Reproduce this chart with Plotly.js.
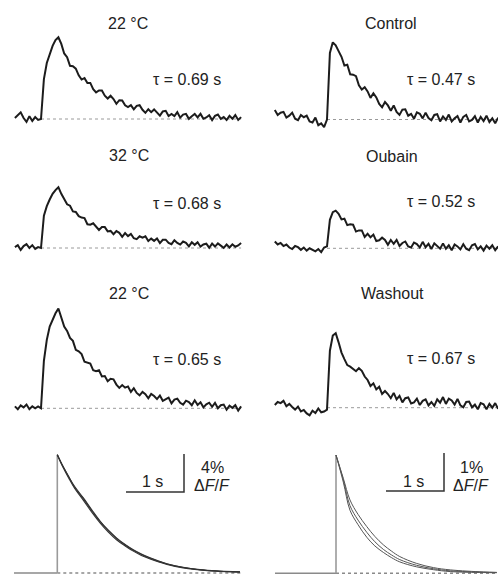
<!DOCTYPE html>
<html><head><meta charset="utf-8">
<script src="https://cdn.plot.ly/plotly-3.0.1.min.js"></script>
<style>html,body{margin:0;padding:0;background:#fff;}#chart{width:498px;height:575px;}</style>
</head><body><div id="chart"></div>
<script>
// ---------- DATA (ΔF/F in %, time in s) ----------
const sampleStepS = 0.05;
const leftStartS = -0.45;
const rightStartS = -0.9;

const panelTitles = ["22 °C", "Control", "32 °C", "Oubain", "22 °C", "Washout"];
const tauLabels = ["τ = 0.69 s", "τ = 0.47 s", "τ = 0.68 s", "τ = 0.52 s", "τ = 0.65 s", "τ = 0.67 s"];

const trace22a = [0.1,0.4,0.7,0.1,-0.3,0.3,-0.2,0.2,-0.1,0.0,
  4.2,5.9,6.8,7.7,8.3,8.6,
  7.9,6.9,6.5,5.6,5.55,5.3,4.6,4.15,4.3,3.8,
  3.8,3.15,2.8,3.0,3.0,2.45,2.15,2.45,2.1,1.6,
  1.98,1.95,1.45,1.25,1.45,1.01,1.38,1.45,0.97,0.65,
  1.03,0.72,1.01,0.7,0.35,0.8,0.86,0.32,0.53,0.3,
  0.72,0.14,0.46,0.54,0.02,0.3,0.53,0.16,0.54,0.02,
  0.16,0.4,-0.11,0.33,0.47,0.01,0.2,-0.11,0.33,0.02,
  0.41,-0.1,0.2];
const trace32 = [0.1,0.3,-0.2,0.2,0.4,0.0,0.3,-0.1,0.1,0.0,
  3.4,4.4,5.1,5.7,6.1,6.4,
  5.7,5.2,4.6,4.45,3.85,3.8,3.35,3.2,3.15,2.5,
  2.45,2.6,2.3,1.9,2.2,2.2,1.75,1.8,1.45,1.78,
  1.6,1.18,1.57,1.25,1.49,1.03,0.93,1.23,1.08,1.23,
  0.73,0.99,0.75,1.0,0.51,0.87,0.88,0.54,0.4,0.82,
  0.54,0.36,0.68,0.55,0.17,0.6,0.33,0.61,0.14,0.37,
  0.45,0.03,0.46,0.15,0.49,0.23,0.02,0.36,0.05,0.39,
  0.13,0.27,0.52];
const trace22b = [0.2,-0.1,0.3,0.1,0.4,-0.1,0.2,0.0,0.2,0.0,
  5.0,7.2,8.6,9.4,10.0,10.5,
  9.5,8.6,8.15,7.4,7.1,6.15,6.0,5.7,4.9,4.8,
  4.7,4.0,3.9,4.0,3.35,3.4,2.85,3.1,3.05,2.5,
  2.15,2.45,2.17,2.3,1.73,2.12,1.62,1.37,1.72,1.48,
  1.05,1.52,1.3,0.97,1.35,0.79,0.93,1.12,0.52,0.92,
  1.02,0.58,0.39,0.8,0.66,0.32,0.84,0.36,0.63,0.1,
  0.42,0.59,0.16,0.58,0.0,0.32,0.39,-0.14,0.28,0.05,
  0.33,-0.24,0.2];
const traceControl = [0.25,0.12,0.18,0.2,0.05,0.1,0.18,0.02,-0.02,0.12,
  0.06,0.1,-0.05,-0.08,0.05,-0.15,-0.1,-0.2,0.0,1.75,2.03,1.95,
  1.8,1.65,1.42,1.44,1.19,1.18,1.14,0.9,0.79,0.85,
  0.74,0.57,0.69,0.58,0.41,0.32,0.46,0.37,0.23,0.37,
  0.2,0.12,0.26,0.27,0.1,0.15,0.02,0.19,0.15,0.03,
  0.18,0.04,-0.02,0.12,0.14,-0.05,0.08,-0.01,0.13,-0.05,
  0.03,0.09,-0.08,0.07,0.12,-0.05,-0.01,0.09,-0.08,0.07,
  -0.04,0.1,-0.07,0.03,-0.1,0.05];
const traceOubain = [0.18,0.1,0.14,0.06,0.1,0.02,-0.02,0.06,0.03,-0.04,
  0.02,-0.06,0.0,-0.03,-0.08,-0.02,-0.1,0.02,0.05,0.75,0.95,0.99,
  0.91,0.76,0.78,0.61,0.63,0.62,0.44,0.47,0.47,0.3,
  0.38,0.29,0.36,0.19,0.21,0.28,0.22,0.09,0.22,0.12,
  0.22,0.06,0.14,0.18,0.05,0.02,0.15,0.11,0.02,0.17,
  0.03,0.12,-0.02,0.13,0.05,-0.01,0.13,-0.01,0.08,-0.05,
  0.1,0.05,-0.03,0.11,-0.01,-0.05,0.08,0.11,-0.03,0.05,
  -0.06,0.07,-0.01,0.08,-0.05,0.05];
const traceWashout = [0.07,0.15,0.12,0.18,0.04,0.1,0.02,-0.05,0.03,-0.1,
  -0.06,-0.15,-0.2,-0.08,-0.14,-0.02,-0.12,-0.1,-0.05,1.5,1.9,1.96,
  1.72,1.45,1.28,1.12,1.08,1.02,0.96,1.04,0.97,0.82,
  0.73,0.57,0.64,0.48,0.55,0.36,0.44,0.36,0.25,0.39,
  0.22,0.31,0.14,0.25,0.27,0.11,0.14,0.24,0.07,0.18,
  0.22,0.06,0.15,0.05,0.22,0.13,0.28,0.1,0.24,0.19,
  0.08,0.23,0.06,0.01,0.15,0.16,0.01,0.08,-0.04,0.12,
  0.09,-0.04,0.1,0.0,0.12,-0.03];

// fitted decays (normalised)
const fitTimesLeft = [0,0.1,0.2,0.3,0.45,0.6,0.74,0.88,1.02,1.17,1.31,1.45,1.6,1.75,1.89,2.17,2.46,2.75,3.03,3.15];
const fit22a = [12.45,11.2,10.1,9.1,7.9,6.6,5.45,4.5,3.7,3.0,2.45,2.0,1.6,1.25,0.98,0.6,0.36,0.22,0.14,0.12];
const fit32  = [12.45,11.2,10.1,9.0,7.8,6.5,5.4,4.45,3.65,2.95,2.4,1.95,1.55,1.22,0.95,0.58,0.35,0.21,0.13,0.11];
const fit22b = [12.45,11.1,9.95,8.9,7.65,6.35,5.25,4.3,3.5,2.85,2.3,1.85,1.48,1.15,0.9,0.54,0.32,0.19,0.12,0.1];
const fitTimesRight = [0,0.126,0.241,0.38,0.53,0.67,0.816,0.96,1.10,1.39,1.68,1.97,2.54,2.77];
const fitWashout = [3.11,2.5,1.93,1.55,1.23,0.97,0.75,0.58,0.44,0.26,0.15,0.09,0.035,0.025];
const fitOubain  = [3.11,2.46,1.78,1.4,1.08,0.83,0.63,0.48,0.36,0.21,0.12,0.065,0.03,0.02];
const fitControl = [3.11,2.4,1.66,1.28,0.95,0.72,0.55,0.41,0.3,0.17,0.095,0.045,0.02,0.015];

const scaleTimeS = 1;
const scaleLeftPct = 4;
const scaleRightPct = 1;
const scaleLabelsLeft = ["1 s", "4%"];
const scaleLabelsRight = ["1 s", "1%"];

// ---------- LAYOUT GEOMETRY (pixels) ----------
const W = 498, H = 575, PXS = 58;
const panels = [
  {xa:10, xb:246, x0:41,   y0:119,   ya:30,  yb:130, ppy:9.5},  // L1
  {xa:270,xb:498, x0:327,  y0:119.5, ya:35,  yb:130, ppy:38},   // R1
  {xa:10, xb:246, x0:41,   y0:248,   ya:170, yb:258, ppy:9.5},  // L2
  {xa:270,xb:498, x0:327,  y0:248.3, ya:200, yb:258, ppy:38},   // R2
  {xa:10, xb:246, x0:41,   y0:408.3, ya:300, yb:418, ppy:9.5},  // L3
  {xa:270,xb:498, x0:327,  y0:407.7, ya:320, yb:418, ppy:38},   // R3
  {xa:10, xb:246, x0:57.3, y0:573,   ya:445, yb:575, ppy:9.5},  // L4
  {xa:270,xb:498, x0:336,  y0:573.3, ya:445, yb:575, ppy:38}    // R4
];
const px = x => x / W, py = y => 1 - y / H;

const layout = {
  width: W, height: H, margin: {l:0, r:0, t:0, b:0},
  paper_bgcolor: '#fff', plot_bgcolor: 'rgba(0,0,0,0)',
  showlegend: false, annotations: [], shapes: []
};
panels.forEach((p, i) => {
  const k = i === 0 ? '' : String(i + 1);
  layout['xaxis' + k] = {domain:[px(p.xa), px(p.xb)], range:[(p.xa-p.x0)/PXS, (p.xb-p.x0)/PXS],
    visible:false, fixedrange:true, anchor:'y' + k};
  layout['yaxis' + k] = {domain:[py(p.yb), py(p.ya)], range:[(p.y0-p.yb)/p.ppy, (p.y0-p.ya)/p.ppy],
    visible:false, fixedrange:true, anchor:'x' + k};
});
const ax = i => (i === 0 ? '' : String(i + 1));

const traces = [];
const recordings = [trace22a, traceControl, trace32, traceOubain, trace22b, traceWashout];
recordings.forEach((vals, i) => {
  const left = i % 2 === 0;
  const start = left ? leftStartS : rightStartS;
  const end = start + sampleStepS * (vals.length - 1);
  traces.push({type:'scatter', mode:'lines', x:[0, end], y:[0, 0], xaxis:'x'+ax(i), yaxis:'y'+ax(i),
    line:{color:'#9a9a9a', width:1, dash:'3px,3px'}, hoverinfo:'skip'});
  traces.push({type:'scatter', mode:'lines', x0:start, dx:sampleStepS, y:vals, xaxis:'x'+ax(i), yaxis:'y'+ax(i),
    line:{color:'#1c1c1c', width:2}});
});

function bottom(i, times, fits, color, width, startT, endT, peak) {
  const a = ax(i);
  traces.push({type:'scatter', mode:'lines', x:[startT, 0], y:[0, 0], xaxis:'x'+a, yaxis:'y'+a,
    line:{color:'#8a8a8a', width:1.6}});
  traces.push({type:'scatter', mode:'lines', x:[0, endT], y:[0, 0], xaxis:'x'+a, yaxis:'y'+a,
    line:{color:'#8a8a8a', width:1.6, dash:'3px,3px'}});
  traces.push({type:'scatter', mode:'lines', x:[0, 0], y:[0, peak], xaxis:'x'+a, yaxis:'y'+a,
    line:{color:'#9a9a9a', width:1.6}});
  fits.forEach(f => traces.push({type:'scatter', mode:'lines', x:times, y:f, xaxis:'x'+a, yaxis:'y'+a,
    line:{color:color, width:width, shape:'spline'}}));
}
bottom(6, fitTimesLeft, [fit22a, fit32, fit22b], '#333', 1.1, (14-57.3)/PXS, (242-57.3)/PXS, fit22a[0]);
bottom(7, fitTimesRight, [fitWashout, fitOubain, fitControl], '#555', 1.0, (275-336)/PXS, (498-336)/PXS, fitWashout[0]);

function scaleBar(i, cornerT, cornerY, pct) {
  const a = ax(i);
  traces.push({type:'scatter', mode:'lines', x:[cornerT - scaleTimeS, cornerT, cornerT], y:[cornerY, cornerY, cornerY + pct],
    xaxis:'x'+a, yaxis:'y'+a, line:{color:'#333', width:1.5}});
}
scaleBar(6, (184-57.3)/PXS, (573-492)/9.5, scaleLeftPct);
scaleBar(7, (444-336)/PXS, (573.3-491)/38, scaleRightPct);

const font = {family:'Liberation Sans, Arial, Helvetica, sans-serif', size:16, color:'#222'};
function label(text, x, y) {
  layout.annotations.push({text:text, x:px(x), y:py(y), xref:'paper', yref:'paper',
    xanchor:'center', yanchor:'middle', showarrow:false, font:font});
}
const titlePos = [[128,23],[391,23],[129,155],[392,157],[129,293],[392,293]];
const tauPos = [[187,80],[441,79],[187,203],[441,202],[187,359],[441,358]];
panelTitles.forEach((t, i) => label(t, titlePos[i][0], titlePos[i][1]));
tauLabels.forEach((t, i) => label(t, tauPos[i][0], tauPos[i][1]));
label(scaleLabelsLeft[0], 152, 481);
label(scaleLabelsLeft[1], 212, 467);
label('Δ<i>F</i>/<i>F</i>', 212, 485);
label(scaleLabelsRight[0], 413, 481);
label(scaleLabelsRight[1], 471, 467);
label('Δ<i>F</i>/<i>F</i>', 471, 485);

Plotly.newPlot('chart', traces, layout, {displayModeBar:false, staticPlot:true});
</script></body></html>
